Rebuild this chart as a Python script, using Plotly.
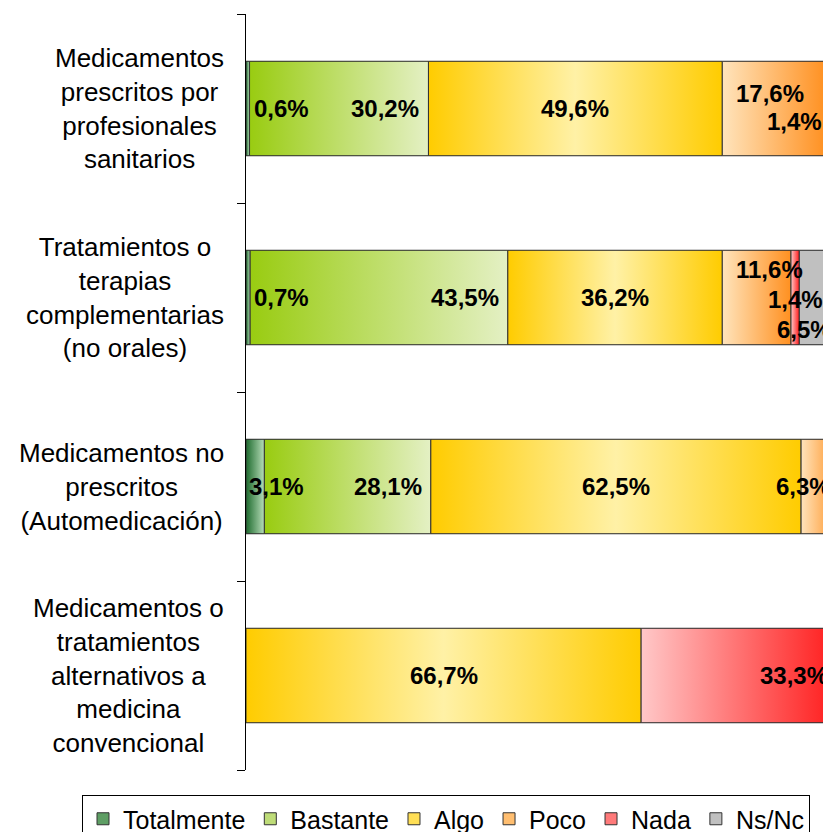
import plotly.graph_objects as go

# ---------------- data ----------------
categories = [
    "Medicamentos<br>prescritos por<br>profesionales<br>sanitarios",
    "Tratamientos o<br>terapias<br>complementarias<br>(no orales)",
    "Medicamentos no<br>prescritos<br>(Automedicación)",
    "Medicamentos o<br>tratamientos<br>alternativos a<br>medicina<br>convencional",
]
series_names = ["Totalmente", "Bastante", "Algo", "Poco", "Nada", "Ns/Nc"]
totalmente = [0.6, 0.7, 3.1, 0.0]
bastante = [30.2, 43.5, 28.1, 0.0]
algo = [49.6, 36.2, 62.5, 66.7]
poco = [17.6, 11.6, 6.3, 0.0]
nada = [1.4, 1.4, 0.0, 33.3]
nsnc = [0.0, 6.5, 0.0, 0.0]
values = [totalmente, bastante, algo, poco, nada, nsnc]

# ---------------- styles ----------------
solid = ["#5E9E64", "#BEDC78", "#FFDF55", "#FFBE70", "#FF7A7A", "#C0C0C0"]
gradients = [
    [[0, "#1E6B2E"], [1, "#B7DDB9"]],
    [[0, "#99CC11"], [1, "#E4F0C4"]],
    [[0, "#FFCC00"], [0.5, "#FFF1A6"], [1, "#FFCC00"]],
    [[0, "#FFE4BC"], [1, "#FF9020"]],
    [[0, "#FFC8C8"], [1, "#FF1A1A"]],
    [[0, "#C0C0C0"], [1, "#C0C0C0"]],
]
label_mode = ["start", "end", "center", "center", "center", "center"]
# per-label pixel nudges (row, series) -> (xshift, yshift)
nudges = {
    (0, 3): (-4, 15), (0, 4): (-36, -13),
    (1, 3): (13, 28), (1, 4): (0, -2), (1, 5): (-14, -32),
    (2, 0): (-5, 0), (2, 3): (-16, 0),
    (3, 4): (54, 0),
}
BAR_W = 0.5
XMAX = 97.4
FONT = "Liberation Sans, Arial, sans-serif"
W, H = 823, 832
ML, MT, MB = 246, 14, 62
PW, PH = W - ML, H - MT - MB

fig = go.Figure()
rows = list(range(len(categories)))

# stacked bars (structure + legend)
for s, name in enumerate(series_names):
    fig.add_trace(go.Bar(
        y=rows, x=values[s], name=name, orientation="h", width=BAR_W,
        marker=dict(color=solid[s], line=dict(color="#333333", width=1)),
        hoverinfo="skip",
    ))

# gradient overlays + labels
annotations = []
for i in rows:
    base = 0.0
    for s in range(len(series_names)):
        v = values[s][i]
        if v <= 0:
            continue
        x0, x1 = base, base + v
        y0, y1 = i - BAR_W / 2, i + BAR_W / 2
        fig.add_trace(go.Scatter(
            x=[x0, x1, x1, x0, x0], y=[y0, y0, y1, y1, y0],
            mode="lines", fill="toself",
            fillgradient=dict(type="horizontal", colorscale=gradients[s], start=x0, stop=x1),
            line=dict(color="#333333", width=1),
            showlegend=False, hoverinfo="skip",
        ))
        mode = label_mode[s]
        dx, dy = nudges.get((i, s), (0, 0))
        if mode == "start":
            ax, anchor, xs = x0, "left", 6
        elif mode == "end":
            ax, anchor, xs = x1, "right", -7
        else:
            ax, anchor, xs = (x0 + x1) / 2, "center", 0
        annotations.append(dict(
            xref="paper", yref="y", x=ax / XMAX, y=i, xanchor=anchor, yanchor="middle",
            xshift=xs + dx, yshift=dy, showarrow=False,
            text=f"<b>{v:.1f}%</b>".replace(".", ","),
            font=dict(family=FONT, size=24, color="black"),
        ))
        base = x1

for i, cat in enumerate(categories):
    annotations.append(dict(
        xref="paper", yref="y", x=0, y=i, xanchor="right", yanchor="middle",
        xshift=-20, align="center", showarrow=False, text=cat,
        font=dict(family=FONT, size=26, color="black"),
    ))

fig.update_layout(
    width=W, height=H,
    margin=dict(l=ML, r=0, t=MT, b=MB, autoexpand=False),
    plot_bgcolor="white", paper_bgcolor="white",
    barmode="stack",
    annotations=annotations,
    showlegend=True,
    legend=dict(
        orientation="h", xref="paper", yref="paper",
        x=(82 - ML) / PW, xanchor="left", y=-(795 - (MT + PH)) / PH, yanchor="top",
        bordercolor="black", borderwidth=1, bgcolor="white",
        font=dict(family=FONT, size=25, color="black"),
        traceorder="normal",
    ),
    xaxis=dict(range=[0, XMAX], visible=False),
    yaxis=dict(
        range=[3.5, -0.5], tickmode="array",
        tickvals=[-0.5, 0.5, 1.5, 2.5, 3.5],
        ticks="outside", ticklen=8, tickcolor="black",
        showticklabels=False, showline=True, linecolor="black", linewidth=1,
        showgrid=False, zeroline=False,
    ),
)

fig.write_html(
    "out.html",
    config={"displayModeBar": False},
    post_script="document.body.style.margin='0';document.body.style.overflow='hidden';",
)
